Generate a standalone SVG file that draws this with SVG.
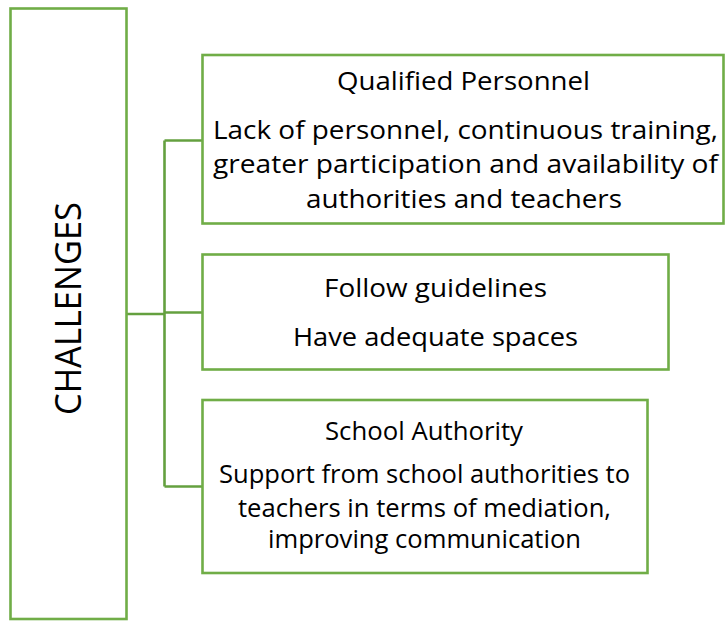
<svg xmlns="http://www.w3.org/2000/svg" width="727" height="621" viewBox="0 0 727 621">
  <style>
    .box { fill: #ffffff; stroke: #70AD47; stroke-width: 2.6; }
    .wire { fill: none; stroke: #64A03F; stroke-width: 2.6; }
    .txt { font-family: "Open Sans", "Liberation Sans", sans-serif; font-size: 25px; fill: #000000; text-anchor: middle; }
    .head { font-size: 25px; }
    .side { font-size: 37px; }
  </style>
  <rect width="727" height="621" fill="#ffffff"/>

  <!-- connectors: trunk from the main box to the three branches -->
  <g id="connectors">
    <path class="wire" d="M126.5 314 H164.5"/>
    <path class="wire" d="M164.5 140.5 V486.5"/>
    <path class="wire" d="M164.5 140.5 H202.5"/>
    <path class="wire" d="M164.5 312.5 H202.5"/>
    <path class="wire" d="M164.5 486.5 H202.5"/>
  </g>

  <g id="challenges">
    <rect class="box" x="10.5" y="8.5" width="116" height="610.5"/>
    <text class="txt side" transform="translate(81 308.5) rotate(-90)" x="0" y="0" textLength="213" lengthAdjust="spacingAndGlyphs">CHALLENGES</text>
  </g>

  <g id="qualified-personnel">
    <rect class="box" x="202.5" y="55" width="521" height="168.5"/>
    <text class="txt head" x="463.5" y="90" textLength="253" lengthAdjust="spacingAndGlyphs">Qualified Personnel</text>
    <text class="txt" x="465.5" y="138.5" textLength="505" lengthAdjust="spacingAndGlyphs">Lack of personnel, continuous training,</text>
    <text class="txt" x="465.5" y="173" textLength="505" lengthAdjust="spacingAndGlyphs">greater participation and availability of</text>
    <text class="txt" x="464" y="208" textLength="316" lengthAdjust="spacingAndGlyphs">authorities and teachers</text>
  </g>

  <g id="follow-guidelines">
    <rect class="box" x="202.5" y="254.5" width="466" height="115"/>
    <text class="txt head" x="435.5" y="296.5" textLength="223" lengthAdjust="spacingAndGlyphs">Follow guidelines</text>
    <text class="txt" x="435.5" y="345.5" textLength="285" lengthAdjust="spacingAndGlyphs">Have adequate spaces</text>
  </g>

  <g id="school-authority">
    <rect class="box" x="202.5" y="400" width="445" height="173"/>
    <text class="txt head" x="424" y="440" textLength="198" lengthAdjust="spacingAndGlyphs">School Authority</text>
    <text class="txt" x="424.5" y="483" textLength="411" lengthAdjust="spacingAndGlyphs">Support from school authorities to</text>
    <text class="txt" x="424.5" y="516.5" textLength="373" lengthAdjust="spacingAndGlyphs">teachers in terms of mediation,</text>
    <text class="txt" x="424.5" y="548" textLength="313" lengthAdjust="spacingAndGlyphs">improving communication</text>
  </g>
</svg>
